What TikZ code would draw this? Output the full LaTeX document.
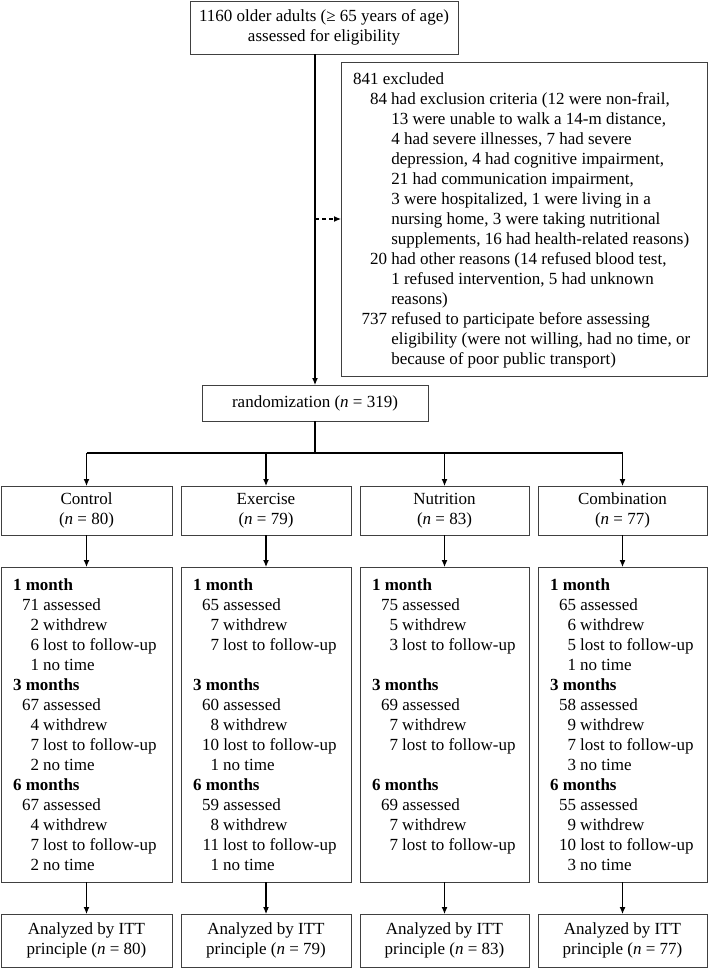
\documentclass[tikz,border=0pt]{standalone}
\usepackage{fontspec}
\setmainfont{Liberation Serif}
\usetikzlibrary{arrows.meta}
\newcommand{\nm}[2]{\makebox[#1][r]{#2}}
\newcommand{\dn}[2]{\makebox[26pt][r]{#1}\ #2}
\newcommand{\hd}[1]{\multicolumn{2}{@{}l@{}}{\textbf{#1}}}
\begin{document}
\begin{tikzpicture}[x=1pt,y=-1pt,
  every node/.style={font=\fontsize{17}{20}\selectfont},
  box/.style={draw=black!75, line width=1pt, rectangle, inner sep=0pt, outer sep=0pt},
  txt/.style={inner sep=0pt, outer sep=0pt, anchor=north west},
  arr/.style={draw=black, line width=1.1pt, -{Latex[length=7pt,width=6pt]}},
  ln/.style={draw=black, line width=1.1pt}]
\useasboundingbox (0,0) rectangle (709,969);

% top
\node[box, minimum width=268pt, minimum height=53pt, align=center] (top) at (324,27.5)
  {1160 older adults (≥ 65 years of age)\\assessed for eligibility};

% excluded
\node[box, minimum width=366pt, minimum height=314pt] (excl) at (524,219) {};
\node[txt] (exclt) at ([shift={(12,8)}]excl.north west) {%
\begin{tabular}{@{}l@{\ }l@{}}
\multicolumn{2}{@{}l@{}}{841 excluded}\\
\nm{34pt}{84} & had exclusion criteria (12 were non-frail,\\
\nm{34pt}{} & 13 were unable to walk a 14-m distance,\\
\nm{34pt}{} & 4 had severe illnesses, 7 had severe\\
\nm{34pt}{} & depression, 4 had cognitive impairment,\\
\nm{34pt}{} & 21 had communication impairment,\\
\nm{34pt}{} & 3 were hospitalized, 1 were living in a\\
\nm{34pt}{} & nursing home, 3 were taking nutritional\\
\nm{34pt}{} & supplements, 16 had health-related reasons)\\
\nm{34pt}{20} & had other reasons (14 refused blood test,\\
\nm{34pt}{} & 1 refused intervention, 5 had unknown\\
\nm{34pt}{} & reasons)\\
\nm{34pt}{737} & refused to participate before assessing\\
\nm{34pt}{} & eligibility (were not willing, had no time, or\\
\nm{34pt}{} & because of poor public transport)
\end{tabular}};

% randomization
\node[box, minimum width=226pt, minimum height=36pt] (rand) at (315,403)
  {randomization (\textit{n} = 319)};

% groups
\node[box, minimum width=171pt, minimum height=49pt, align=center] (g1) at (86.5,510.5) {Control\\(\textit{n} = 80)};
\node[box, minimum width=170pt, minimum height=49pt, align=center] (g2) at (266,510.5) {Exercise\\(\textit{n} = 79)};
\node[box, minimum width=169pt, minimum height=49pt, align=center] (g3) at (444.5,510.5) {Nutrition\\(\textit{n} = 83)};
\node[box, minimum width=169pt, minimum height=49pt, align=center] (g4) at (622.5,510.5) {Combination\\(\textit{n} = 77)};

% detail boxes
\node[box, minimum width=171pt, minimum height=315pt] (d1) at (86.5,724.5) {};
\node[box, minimum width=170pt, minimum height=315pt] (d2) at (266,724.5) {};
\node[box, minimum width=169pt, minimum height=315pt] (d3) at (444.5,724.5) {};
\node[box, minimum width=169pt, minimum height=315pt] (d4) at (622.5,724.5) {};

\node[txt] (d1t) at ([shift={(12,9)}]d1.north west) {%
\begin{tabular}{@{}l@{}l@{}}
\hd{1 month}\\
\dn{71}{assessed}\\
\dn{2}{withdrew}\\
\dn{6}{lost to follow-up}\\
\dn{1}{no time}\\
\hd{3 months}\\
\dn{67}{assessed}\\
\dn{4}{withdrew}\\
\dn{7}{lost to follow-up}\\
\dn{2}{no time}\\
\hd{6 months}\\
\dn{67}{assessed}\\
\dn{4}{withdrew}\\
\dn{7}{lost to follow-up}\\
\dn{2}{no time}
\end{tabular}};

\node[txt] (d2t) at ([shift={(12,9)}]d2.north west) {%
\begin{tabular}{@{}l@{}l@{}}
\hd{1 month}\\
\dn{65}{assessed}\\
\dn{7}{withdrew}\\
\dn{7}{lost to follow-up}\\
\\
\hd{3 months}\\
\dn{60}{assessed}\\
\dn{8}{withdrew}\\
\dn{10}{lost to follow-up}\\
\dn{1}{no time}\\
\hd{6 months}\\
\dn{59}{assessed}\\
\dn{8}{withdrew}\\
\dn{11}{lost to follow-up}\\
\dn{1}{no time}
\end{tabular}};

\node[txt] (d3t) at ([shift={(12,9)}]d3.north west) {%
\begin{tabular}{@{}l@{}l@{}}
\hd{1 month}\\
\dn{75}{assessed}\\
\dn{5}{withdrew}\\
\dn{3}{lost to follow-up}\\
\\
\hd{3 months}\\
\dn{69}{assessed}\\
\dn{7}{withdrew}\\
\dn{7}{lost to follow-up}\\
\\
\hd{6 months}\\
\dn{69}{assessed}\\
\dn{7}{withdrew}\\
\dn{7}{lost to follow-up}
\end{tabular}};

\node[txt] (d4t) at ([shift={(12,9)}]d4.north west) {%
\begin{tabular}{@{}l@{}l@{}}
\hd{1 month}\\
\dn{65}{assessed}\\
\dn{6}{withdrew}\\
\dn{5}{lost to follow-up}\\
\dn{1}{no time}\\
\hd{3 months}\\
\dn{58}{assessed}\\
\dn{9}{withdrew}\\
\dn{7}{lost to follow-up}\\
\dn{3}{no time}\\
\hd{6 months}\\
\dn{55}{assessed}\\
\dn{9}{withdrew}\\
\dn{10}{lost to follow-up}\\
\dn{3}{no time}
\end{tabular}};

% final boxes
\node[box, minimum width=171pt, minimum height=53pt, align=center] (f1) at (86.5,940.5) {Analyzed by ITT\\principle (\textit{n} = 80)};
\node[box, minimum width=170pt, minimum height=53pt, align=center] (f2) at (266,940.5) {Analyzed by ITT\\principle (\textit{n} = 79)};
\node[box, minimum width=169pt, minimum height=53pt, align=center] (f3) at (444.5,940.5) {Analyzed by ITT\\principle (\textit{n} = 83)};
\node[box, minimum width=169pt, minimum height=53pt, align=center] (f4) at (622.5,940.5) {Analyzed by ITT\\principle (\textit{n} = 77)};

% connectors
\draw[arr] (top.south -| rand.north) -- (rand.north);
\draw[arr, dashed, dash pattern=on 4pt off 3pt] (excl.west -| rand.north) -- (excl.west);
\coordinate (split) at (315,453);
\draw[ln] (rand.south) -- (split);
\draw[ln] (g1.north |- split) -- (g4.north |- split);
\foreach \i in {1,2,3,4} {
  \draw[arr] (g\i.north |- split) -- (g\i.north);
  \draw[arr] (g\i.south) -- (d\i.north);
  \draw[arr] (d\i.south) -- (f\i.north);
}
\end{tikzpicture}
\end{document}
